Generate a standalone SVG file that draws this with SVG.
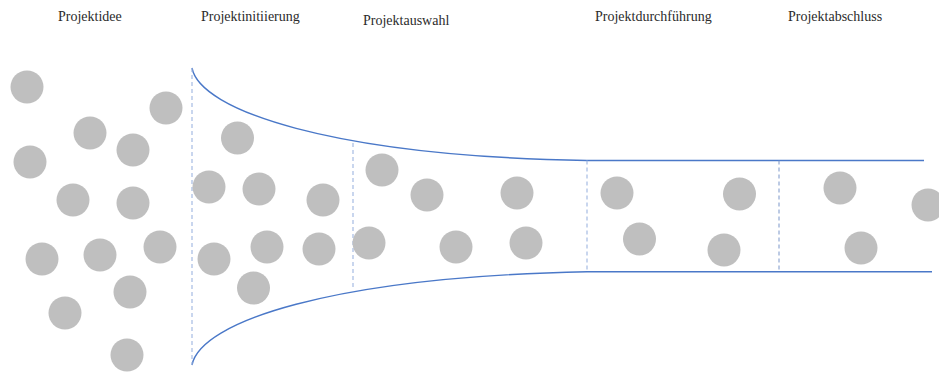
<svg xmlns="http://www.w3.org/2000/svg" width="939" height="372" viewBox="0 0 939 372">
  <style>
    .label { font-family: "Liberation Serif", "Times New Roman", serif; font-size: 14px; fill: #2b2b2b; }
    .dot { fill: #bfbfbf; }
    .funnel { fill: none; stroke: #4a78c8; stroke-width: 1.4; }
    .gate { fill: none; stroke: #9db5e0; stroke-width: 1.1; stroke-dasharray: 4 3; }
    .gate-dark { fill: none; stroke: #7b96c9; stroke-width: 1; stroke-dasharray: 4 3; }
  </style>
  <defs>
    <circle id="d" r="16.5" class="dot"/>
  </defs>
  <rect width="939" height="372" fill="#ffffff"/>

  <!-- phase titles -->
  <g id="titles">
    <text class="label" x="58" y="21">Projektidee</text>
    <text class="label" x="201" y="21">Projektinitiierung</text>
    <text class="label" x="363" y="25">Projektauswahl</text>
    <text class="label" x="595" y="21">Projektdurchführung</text>
    <text class="label" x="788" y="21">Projektabschluss</text>
  </g>

  <!-- funnel outline and phase gates -->
  <g id="connectors">
    <path class="funnel" d="M192,68 C200,110 330,156 587,160.5 L924,160.5"/>
    <path class="funnel" d="M192,365 C200,322 330,277 587,271.7 L932,271.7"/>
    <line class="gate" x1="192" y1="68" x2="192" y2="365"/>
    <line class="gate" x1="353" y1="143" x2="353" y2="290"/>
    <line class="gate" x1="587" y1="160.5" x2="587" y2="271.7"/>
    <line class="gate-dark" x1="779" y1="160.5" x2="779" y2="271.7"/>
  </g>

  <!-- ideas -->
  <g id="ideas">
    <use href="#d" x="27" y="87"/>
    <use href="#d" x="166" y="108"/>
    <use href="#d" x="90" y="133"/>
    <use href="#d" x="133" y="150"/>
    <use href="#d" x="30" y="162"/>
    <use href="#d" x="73" y="200"/>
    <use href="#d" x="133" y="203"/>
    <use href="#d" x="42" y="259"/>
    <use href="#d" x="100" y="255"/>
    <use href="#d" x="160" y="247"/>
    <use href="#d" x="130" y="292"/>
    <use href="#d" x="65" y="313"/>
    <use href="#d" x="127" y="355"/>
  </g>

  <!-- initiation -->
  <g id="initiation">
    <use href="#d" x="237.5" y="138"/>
    <use href="#d" x="209" y="187"/>
    <use href="#d" x="259" y="189"/>
    <use href="#d" x="323" y="200"/>
    <use href="#d" x="214" y="259"/>
    <use href="#d" x="267" y="247"/>
    <use href="#d" x="319" y="249"/>
    <use href="#d" x="253.5" y="288"/>
  </g>

  <!-- selection -->
  <g id="selection">
    <use href="#d" x="382" y="170"/>
    <use href="#d" x="427" y="195"/>
    <use href="#d" x="517" y="193"/>
    <use href="#d" x="369" y="243"/>
    <use href="#d" x="456" y="247"/>
    <use href="#d" x="526" y="243"/>
  </g>

  <!-- execution -->
  <g id="execution">
    <use href="#d" x="617" y="193"/>
    <use href="#d" x="739.5" y="194"/>
    <use href="#d" x="639.5" y="239"/>
    <use href="#d" x="724" y="250"/>
  </g>

  <!-- closing -->
  <g id="closing">
    <use href="#d" x="840" y="188"/>
    <use href="#d" x="861" y="248"/>
    <use href="#d" x="928" y="205"/>
  </g>
</svg>
